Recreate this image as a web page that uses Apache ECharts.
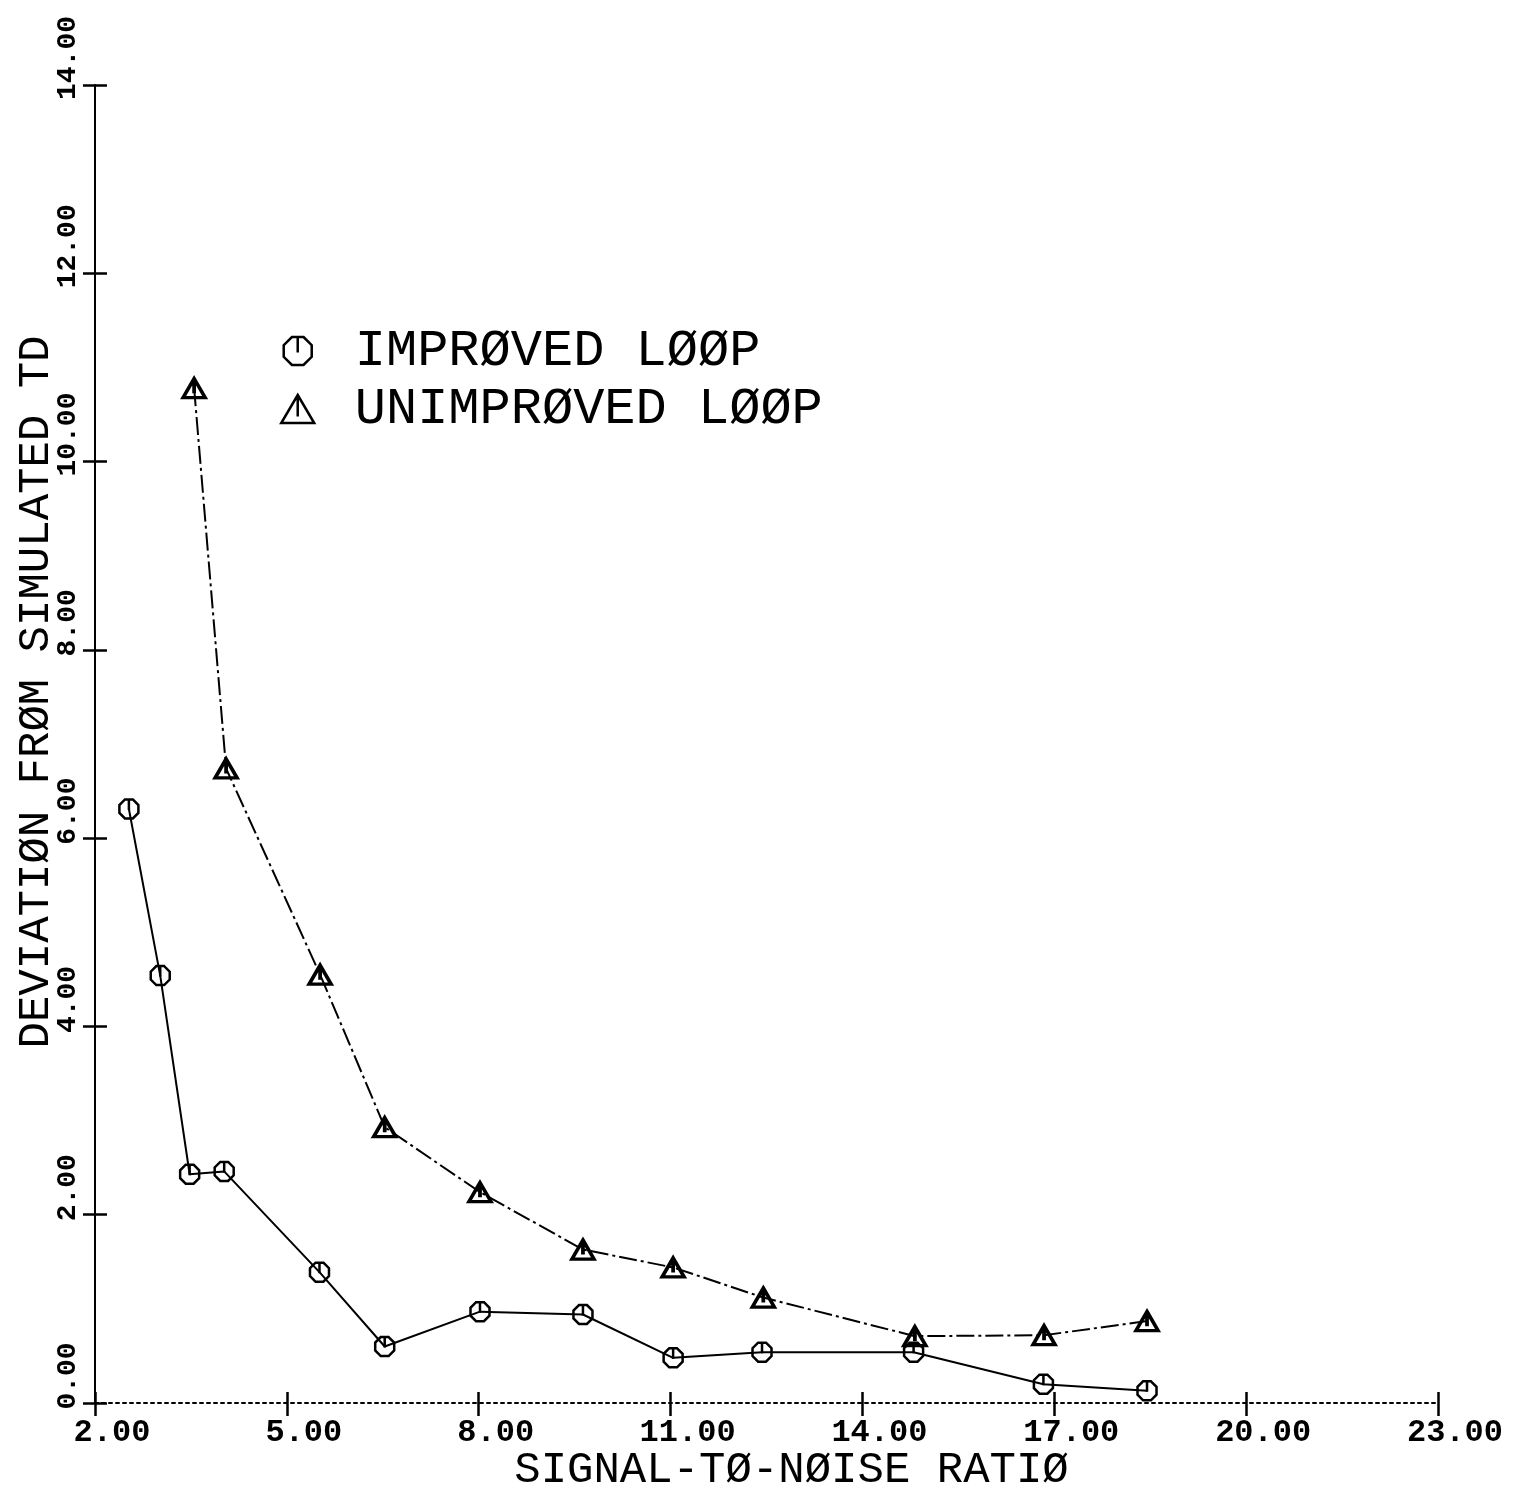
<!DOCTYPE html>
<html>
<head>
<meta charset="utf-8">
<script src="https://cdn.jsdelivr.net/npm/echarts@6/dist/echarts.min.js"></script>
<style>
  html, body { margin: 0; padding: 0; background: #fff; }
  #chart { width: 1515px; height: 1489px; }
</style>
</head>
<body>
<div id="chart"></div>
<script>
// values
const snrImproved = [2.53, 3.02, 3.48, 4.02, 5.51, 6.53, 8.02, 9.63, 11.04, 12.43, 14.80, 16.83, 18.45]
const devImproved = [6.31, 4.54, 2.43, 2.46, 1.39, 0.60, 0.97, 0.94, 0.48, 0.54, 0.54, 0.20, 0.13]

const snrUnimproved = [3.55, 4.05, 5.52, 6.53, 8.02, 9.63, 11.04, 12.45, 14.82, 16.84, 18.45]
const devUnimproved = [10.78, 6.74, 4.55, 2.93, 2.24, 1.63, 1.44, 1.12, 0.71, 0.72, 0.87]

const seriesNames = ['IMPRØVED LØØP', 'UNIMPRØVED LØØP']
const xTitle = 'SIGNAL-TØ-NØISE RATIØ'
const yTitle = 'DEVIATIØN FRØM SIMULATED TD'

const FONT = 'Liberation Mono'

// plotter-style symbols
const octagonSymbol = 'path://M3.83,-9.24L9.24,-3.83L9.24,3.83L3.83,9.24L-3.83,9.24L-9.24,3.83L-9.24,-3.83L-3.83,-9.24ZM0,-9.24L0,1'
const triangleSymbol = 'path://M0,-10L10,7L-10,7ZM0,-10L0,3'

const pairs = (xs, ys) => xs.map((x, i) => [x, ys[i]])

const axisFmt = (v) => v.toFixed(2)

const chart = echarts.init(document.getElementById('chart'), null, { renderer: 'canvas' })

const option = {
    backgroundColor: '#ffffff',
    animation: false,
    grid: {
        left: 95,
        right: 77,
        top: 85,
        bottom: 86,
        containLabel: false,
        outerBoundsMode: 'none'
    },
    legend: {
        orient: 'vertical',
        left: 275,
        top: 320,
        itemWidth: 104,
        itemHeight: 28,
        itemGap: 6,
        selectedMode: false,
        data: [
            { name: seriesNames[0], icon: octagonSymbol },
            { name: seriesNames[1], icon: triangleSymbol }
        ],
        itemStyle: {
            color: 'rgba(0,0,0,0)',
            borderColor: '#000',
            borderWidth: 2.5
        },
        textStyle: {
            fontFamily: FONT,
            fontSize: 52,
            lineHeight: 50,
            color: '#000'
        }
    },
    xAxis: [
        {
            type: 'value',
            min: 2,
            max: 23,
            interval: 3,
            position: 'bottom',
            name: xTitle,
            nameLocation: 'middle',
            nameGap: 45,
            nameMoveOverlap: false,
            nameTextStyle: {
                fontFamily: FONT,
                fontSize: 44,
                color: '#000',
                padding: [0, 0, 0, 50]
            },
            axisLine: {
                show: true,
                onZero: false,
                lineStyle: { color: '#000', width: 2, type: [3, 4] }
            },
            axisTick: {
                show: true,
                length: 13,
                lineStyle: { color: '#000', width: 2.5 }
            },
            axisLabel: {
                formatter: axisFmt,
                fontFamily: FONT,
                fontWeight: 'bold',
                fontSize: 32,
                color: '#000',
                margin: 14,
                padding: [0, 0, 0, 34]
            },
            splitLine: { show: false }
        },
        {
            type: 'value',
            min: 2,
            max: 23,
            interval: 3,
            position: 'bottom',
            axisLine: { show: false, onZero: false },
            axisTick: {
                show: true,
                inside: true,
                length: 11,
                lineStyle: { color: '#000', width: 2.5 }
            },
            axisLabel: { show: false },
            splitLine: { show: false }
        }
    ],
    yAxis: [
        {
            type: 'value',
            min: 0,
            max: 14,
            interval: 2,
            position: 'left',
            name: yTitle,
            nameLocation: 'middle',
            nameGap: 37,
            nameMoveOverlap: false,
            nameTextStyle: {
                fontFamily: FONT,
                fontSize: 44,
                color: '#000',
                padding: [0, 0, 0, 104]
            },
            axisLine: {
                show: true,
                onZero: false,
                lineStyle: { color: '#000', width: 2 }
            },
            axisTick: {
                show: true,
                length: 12,
                lineStyle: { color: '#000', width: 2.5 }
            },
            axisLabel: {
                formatter: axisFmt,
                rotate: 90,
                align: 'center',
                fontFamily: FONT,
                fontWeight: 'bold',
                fontSize: 28,
                color: '#000',
                margin: 13,
                padding: [0, 0, 0, 54]
            },
            splitLine: { show: false }
        },
        {
            type: 'value',
            min: 0,
            max: 14,
            interval: 2,
            position: 'left',
            axisLine: { show: false, onZero: false },
            axisTick: {
                show: true,
                inside: true,
                length: 12,
                lineStyle: { color: '#000', width: 2.5 }
            },
            axisLabel: { show: false },
            splitLine: { show: false }
        }
    ],
    series: [
        {
            name: seriesNames[0],
            type: 'line',
            xAxisIndex: 0,
            yAxisIndex: 0,
            data: pairs(snrImproved, devImproved),
            symbol: octagonSymbol,
            symbolSize: 19,
            showAllSymbol: true,
            itemStyle: {
                color: 'rgba(0,0,0,0)',
                borderColor: '#000',
                borderWidth: 2.5
            },
            lineStyle: { color: '#000', width: 2 },
            emphasis: { disabled: true },
            z: 3
        },
        {
            name: seriesNames[1],
            type: 'line',
            xAxisIndex: 0,
            yAxisIndex: 0,
            data: pairs(snrUnimproved, devUnimproved),
            symbol: triangleSymbol,
            symbolSize: [22, 19],
            showAllSymbol: true,
            itemStyle: {
                color: 'rgba(0,0,0,0)',
                borderColor: '#000',
                borderWidth: 3.5
            },
            lineStyle: { color: '#000', width: 2, type: [18, 4, 3, 4] },
            emphasis: { disabled: true },
            z: 3
        }
    ]
}

chart.setOption(option)
</script>
</body>
</html>
